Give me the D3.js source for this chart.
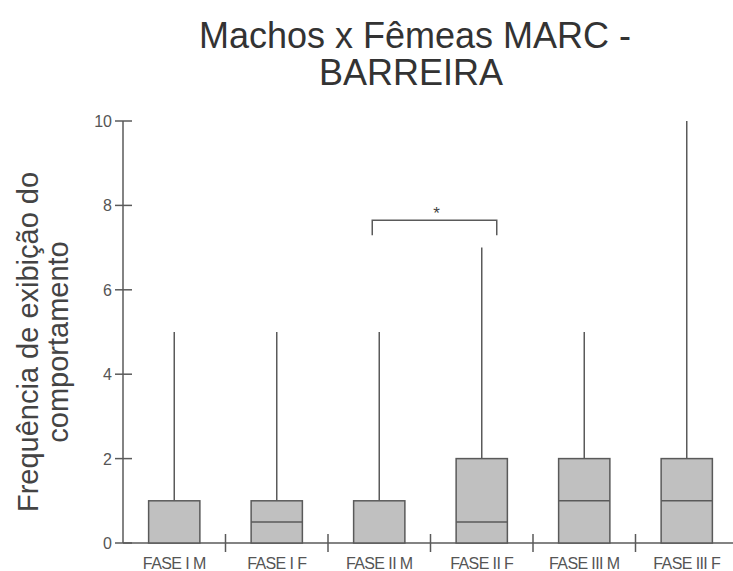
<!DOCTYPE html>
<html>
<head>
<meta charset="utf-8">
<script src="https://cdn.jsdelivr.net/npm/d3@7"></script>
<style>
  body { margin: 0; background: #fff; }
</style>
</head>
<body>
<script>
var categories = ["FASE I M", "FASE I F", "FASE II M", "FASE II F", "FASE III M", "FASE III F"];
var mins    = [0, 0, 0, 0, 0, 0];
var q1s     = [0, 0, 0, 0, 0, 0];
var medians = [0, 0.5, 0, 0.5, 1, 1];
var q3s     = [1, 1, 1, 2, 2, 2];
var maxs    = [5, 5, 5, 7, 5, 10];
var yTicks  = [0, 2, 4, 6, 8, 10];

var width = 733, height = 571;
var x0 = 123, x1 = 738, yTop = 121, yBot = 543;

var svg = d3.select("body")
  .append("svg")
    .attr("width", width)
    .attr("height", height);

var x = d3.scaleBand().domain(categories).range([x0, x1]).padding(0);
var y = d3.scaleLinear().domain([0, 10]).range([yBot, yTop]);

var data = categories.map(function(c, i) {
  return {cat: c, min: mins[i], q1: q1s[i], med: medians[i], q3: q3s[i], max: maxs[i]};
});

var ink = "#5a5a5a";

// title
svg.append("text")
    .attr("x", 415).attr("y", 48)
    .attr("text-anchor", "middle")
    .style("font-family", "Liberation Sans, Arial, sans-serif")
    .style("font-size", "36px")
    .style("fill", "#333")
    .text("Machos x Fêmeas MARC -");
svg.append("text")
    .attr("x", 411).attr("y", 85)
    .attr("text-anchor", "middle")
    .style("font-family", "Liberation Sans, Arial, sans-serif")
    .style("font-size", "36px")
    .style("fill", "#333")
    .text("BARREIRA");

// y label
var yl = svg.append("text")
    .attr("transform", "translate(38,342) rotate(-90)")
    .attr("text-anchor", "middle")
    .style("font-family", "Liberation Sans, Arial, sans-serif")
    .style("font-size", "29px")
    .style("fill", "#444");
yl.append("tspan").attr("x", 0).attr("dy", 0).text("Frequência de exibição do");
yl.append("tspan").attr("x", 0).attr("dy", 30).text("comportamento");

// y axis
svg.append("line")
    .attr("x1", x0).attr("x2", x0).attr("y1", yTop).attr("y2", yBot)
    .attr("stroke", ink).attr("stroke-width", 1.5);
svg.selectAll(".ytick")
    .data(yTicks)
  .enter().append("line")
    .attr("x1", x0 - 8).attr("x2", x0 + 9)
    .attr("y1", function(d) { return y(d); })
    .attr("y2", function(d) { return y(d); })
    .attr("stroke", ink).attr("stroke-width", 1.5);
svg.selectAll(".ylab")
    .data(yTicks)
  .enter().append("text")
    .attr("x", x0 - 11)
    .attr("y", function(d) { return y(d) + 6; })
    .attr("text-anchor", "end")
    .style("font-family", "Liberation Sans, Arial, sans-serif")
    .style("font-size", "16px")
    .style("fill", "#555")
    .text(function(d) { return d; });

// x axis
svg.append("line")
    .attr("x1", x0).attr("x2", x1).attr("y1", yBot).attr("y2", yBot)
    .attr("stroke", ink).attr("stroke-width", 1.5);
svg.selectAll(".xtick")
    .data(categories.slice(1))
  .enter().append("line")
    .attr("x1", function(d) { return x(d); })
    .attr("x2", function(d) { return x(d); })
    .attr("y1", yBot - 9).attr("y2", yBot + 9)
    .attr("stroke", ink).attr("stroke-width", 1.5);
svg.selectAll(".xlab")
    .data(categories)
  .enter().append("text")
    .attr("x", function(d) { return x(d) + x.bandwidth() / 2; })
    .attr("y", 569)
    .attr("text-anchor", "middle")
    .style("font-family", "Liberation Sans, Arial, sans-serif")
    .style("font-size", "16px")
    .style("letter-spacing", "-0.6px")
    .style("fill", "#555")
    .text(function(d) { return d; });

// boxes
var bw = x.bandwidth() * 0.5;
var g = svg.selectAll(".box")
    .data(data)
  .enter().append("g")
    .attr("transform", function(d) { return "translate(" + (x(d.cat) + x.bandwidth() / 2) + ",0)"; });

g.append("line")
    .attr("x1", 0).attr("x2", 0)
    .attr("y1", function(d) { return y(d.max); })
    .attr("y2", function(d) { return y(d.q3); })
    .attr("stroke", ink).attr("stroke-width", 1.5);
g.append("rect")
    .attr("x", -bw / 2).attr("width", bw)
    .attr("y", function(d) { return y(d.q3); })
    .attr("height", function(d) { return y(d.q1) - y(d.q3); })
    .style("fill", "#c0c0c0")
    .attr("stroke", ink).attr("stroke-width", 1.5);
g.filter(function(d) { return d.med > d.q1; })
  .append("line")
    .attr("x1", -bw / 2).attr("x2", bw / 2)
    .attr("y1", function(d) { return y(d.med); })
    .attr("y2", function(d) { return y(d.med); })
    .attr("stroke", ink).attr("stroke-width", 1.5);

// significance bracket between FASE II M and FASE II F
var bx1 = x("FASE II M") + x.bandwidth() / 2 - 7;
var bx2 = x("FASE II F") + x.bandwidth() / 2 + 15;
var by = y(7.65);
svg.append("path")
    .attr("d", "M" + bx1 + "," + (by + 15) + "V" + by + "H" + bx2 + "V" + (by + 15))
    .attr("fill", "none")
    .attr("stroke", ink).attr("stroke-width", 1.5);
svg.append("text")
    .attr("x", (bx1 + bx2) / 2 + 2).attr("y", by - 1)
    .attr("text-anchor", "middle")
    .style("font-family", "Liberation Sans, Arial, sans-serif")
    .style("font-size", "17px")
    .style("fill", "#444")
    .text("*");
</script>
</body>
</html>
